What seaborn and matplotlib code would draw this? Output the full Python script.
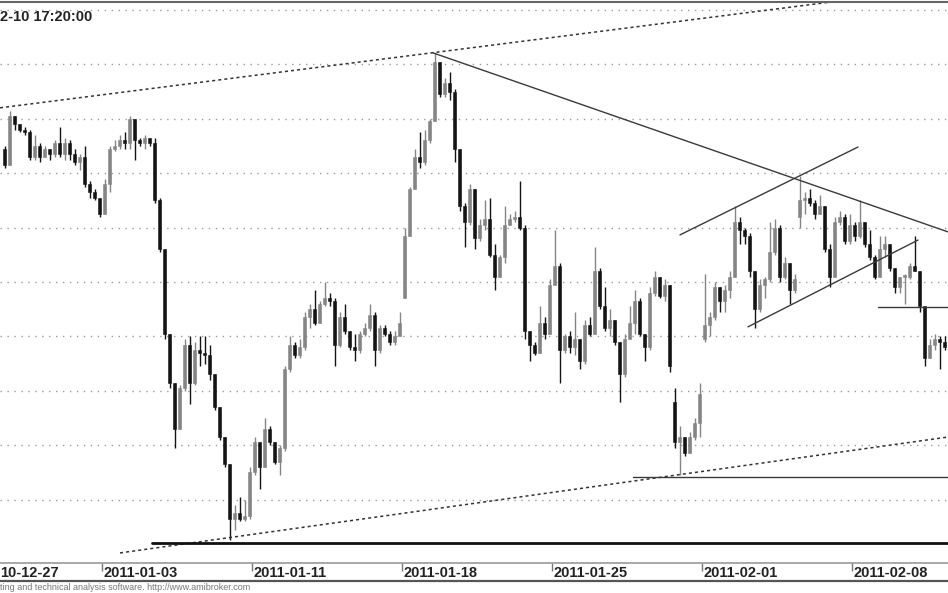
import matplotlib
matplotlib.use("Agg")
import matplotlib.pyplot as plt
import numpy as np
import seaborn as sns

# intraday candles, first visible bar is the 5th bar of 2010-12-27
first_open = 2749
closes = [
    2743, 2761, 2758, 2756, 2755, 2746, 2750, 2746, 2749, 2747,
    2751, 2747, 2751, 2747, 2744, 2746, 2736, 2733, 2731, 2725,
    2736, 2749, 2750, 2752, 2751, 2760, 2752, 2751, 2753, 2751,
    2730, 2712, 2681, 2663, 2646, 2661, 2677, 2663, 2675, 2674,
    2673, 2666, 2654, 2643, 2633, 2613, 2615, 2613, 2614, 2630,
    2641, 2632, 2646, 2641, 2634, 2639, 2668, 2677, 2673, 2676,
    2687, 2690, 2685, 2692, 2694, 2693, 2677, 2687, 2682, 2676,
    2675, 2681, 2683, 2688, 2675, 2683, 2681, 2678, 2680, 2685,
    2717, 2734, 2746, 2744, 2752, 2759, 2781, 2769, 2773, 2770,
    2749, 2728, 2722, 2734, 2716, 2721, 2723, 2710, 2702, 2709,
    2721, 2723, 2724, 2720, 2682, 2677, 2674, 2685, 2681, 2699,
    2706, 2675, 2680, 2676, 2679, 2671, 2684, 2681, 2704, 2691,
    2683, 2686, 2678, 2666, 2679, 2685, 2693, 2681, 2676, 2696,
    2702, 2695, 2699, 2669, 2641, 2643, 2637, 2643, 2648, 2659,
    2684, 2687, 2698, 2693, 2697, 2702, 2722, 2719, 2717, 2704,
    2690, 2699, 2701, 2711, 2720, 2702, 2707, 2697, 2701, 2730,
    2731, 2729, 2725, 2728, 2712, 2702, 2722, 2724, 2715, 2721,
    2717, 2722, 2714, 2709, 2702, 2712, 2714, 2705, 2698, 2702,
    2702, 2706, 2704, 2691, 2672, 2677, 2679, 2678, 2676,
]
highs = [
    2750, 2763, 2761, 2758, 2757, 2756, 2754, 2751, 2750, 2749,
    2752, 2757, 2753, 2752, 2749, 2747, 2750, 2737, 2734, 2731,
    2738, 2750, 2752, 2754, 2755, 2761, 2758, 2753, 2754, 2753,
    2753, 2731, 2712, 2681, 2663, 2662, 2679, 2680, 2678, 2680,
    2680, 2677, 2665, 2654, 2643, 2633, 2618, 2621, 2620, 2632,
    2643, 2641, 2650, 2647, 2641, 2640, 2669, 2680, 2678, 2679,
    2689, 2692, 2697, 2693, 2700, 2696, 2694, 2689, 2692, 2682,
    2681, 2682, 2685, 2692, 2689, 2684, 2684, 2682, 2682, 2689,
    2720, 2735, 2749, 2755, 2756, 2760, 2784, 2781, 2775, 2777,
    2771, 2749, 2729, 2736, 2734, 2723, 2730, 2731, 2714, 2710,
    2728, 2725, 2726, 2737, 2721, 2679, 2678, 2691, 2687, 2701,
    2719, 2707, 2681, 2682, 2689, 2679, 2686, 2687, 2713, 2705,
    2698, 2690, 2685, 2678, 2681, 2691, 2697, 2694, 2681, 2698,
    2704, 2702, 2701, 2699, 2661, 2647, 2643, 2645, 2650, 2663,
    2703, 2689, 2700, 2698, 2699, 2704, 2728, 2724, 2720, 2718,
    2704, 2701, 2702, 2722, 2723, 2721, 2709, 2707, 2703, 2739,
    2733, 2734, 2730, 2732, 2728, 2714, 2724, 2726, 2725, 2725,
    2722, 2730, 2722, 2719, 2710, 2717, 2717, 2714, 2705, 2702,
    2703, 2707, 2717, 2704, 2691, 2679, 2681, 2680, 2680,
]
lows = [
    2742, 2743, 2756, 2755, 2754, 2745, 2745, 2744, 2746, 2745,
    2746, 2746, 2745, 2745, 2743, 2741, 2735, 2731, 2730, 2724,
    2729, 2733, 2748, 2749, 2749, 2749, 2745, 2750, 2749, 2750,
    2729, 2711, 2679, 2661, 2639, 2648, 2660, 2655, 2662, 2669,
    2670, 2664, 2653, 2642, 2632, 2605, 2609, 2612, 2612, 2613,
    2629, 2624, 2632, 2640, 2633, 2629, 2638, 2667, 2672, 2672,
    2675, 2683, 2684, 2685, 2691, 2691, 2669, 2676, 2681, 2675,
    2671, 2674, 2680, 2682, 2669, 2674, 2680, 2677, 2677, 2680,
    2694, 2717, 2734, 2742, 2743, 2751, 2759, 2768, 2768, 2767,
    2744, 2726, 2713, 2721, 2712, 2715, 2719, 2709, 2697, 2702,
    2707, 2721, 2722, 2719, 2679, 2671, 2673, 2675, 2679, 2681,
    2699, 2663, 2674, 2674, 2673, 2668, 2670, 2680, 2681, 2690,
    2682, 2680, 2677, 2656, 2665, 2679, 2681, 2680, 2671, 2675,
    2695, 2694, 2693, 2667, 2639, 2629, 2636, 2637, 2642, 2643,
    2678, 2680, 2686, 2689, 2689, 2694, 2702, 2714, 2714, 2702,
    2683, 2689, 2694, 2700, 2710, 2700, 2701, 2692, 2696, 2720,
    2725, 2728, 2723, 2725, 2711, 2698, 2702, 2721, 2714, 2714,
    2715, 2716, 2713, 2708, 2701, 2702, 2709, 2704, 2696, 2696,
    2692, 2701, 2704, 2689, 2669, 2672, 2675, 2668, 2675,
]
# session opens that gap away from the previous close
gap_opens = {80: 2694, 134: 2656, 140: 2679, 159: 2724}

# first bar index of each labelled session
day_labels = ["2011-01-03", "2011-01-11", "2011-01-18", "2011-01-25",
              "2011-02-01", "2011-02-08"]
day_start_bars = [20, 50, 80, 110, 140, 170]

# hand drawn study lines: (bar, price) end points
dotted_lines = [((-0.9, 2764.0), (167.0, 2803.3)),
                ((23.1, 2600.4), (188.7, 2643.0))]
solid_lines = [((85.7, 2784.2), (188.7, 2718.4)),
               ((135.1, 2717.3), (170.7, 2749.6)),
               ((148.7, 2683.5), (182.7, 2715.4)),
               ((174.7, 2690.8), (188.7, 2690.8)),
               ((125.7, 2628.3), (188.7, 2628.3))]
support_line = ((29.5, 2604.0), (188.7, 2604.0))

sns.set_theme(style="white")
plt.rcParams["font.family"] = ["Liberation Sans", "DejaVu Sans"]

closes = np.array(closes, dtype=float)
highs = np.array(highs, dtype=float)
lows = np.array(lows, dtype=float)
opens = np.concatenate([[first_open], closes[:-1]])
for i, o in gap_opens.items():
    opens[i] = o
idx = np.arange(len(closes))

up = closes >= opens
cols = np.where(up, "#858585", "#141414")
body_lo = np.minimum(opens, closes)
body_h = np.maximum(np.abs(closes - opens), 0.7)
wick_lo = np.minimum(lows, body_lo)
wick_hi = np.maximum(highs, np.maximum(opens, closes))

W, H = 948, 593
fig = plt.figure(figsize=(W / 100, H / 100), dpi=100)
ax = fig.add_axes([0, 30 / H, 1, 561 / H])
strip = fig.add_axes([0, 12 / H, 1, 18 / H], sharex=ax)

ax.set_yticks(np.arange(2620, 2801, 20))
ax.yaxis.grid(True, color="#9a9a9a", linestyle=(0, (1, 4)), linewidth=1)
ax.xaxis.grid(False)
ax.tick_params(left=False, bottom=False, labelleft=False, labelbottom=False)

ax.vlines(idx, wick_lo, wick_hi, colors=cols, linewidth=1)
ax.bar(idx, body_h, bottom=body_lo, width=0.66, color=cols, edgecolor=cols, linewidth=0.4)

for (x0, y0), (x1, y1) in dotted_lines:
    ax.plot([x0, x1], [y0, y1], color="#333333", linestyle=(0, (2, 2)), linewidth=1.1)
for (x0, y0), (x1, y1) in solid_lines:
    ax.plot([x0, x1], [y0, y1], color="#3a3a3a", linewidth=1.0)
(x0, y0), (x1, y1) = support_line
ax.plot([x0, x1], [y0, y1], color="#111111", linewidth=2.0)

ax.set_xlim(-0.9, 188.7)
ax.set_ylim(2596.7, 2802.9)
for side in ["left", "right", "bottom"]:
    ax.spines[side].set_visible(False)
ax.spines["top"].set_color("#666666")
ax.spines["top"].set_linewidth(1.5)

ax.text(0.0, 0.985, "2-10 17:20:00", transform=ax.transAxes, ha="left", va="top",
        fontsize=10.5, fontweight="bold", color="#222222")

# date strip
strip.set_ylim(0, 1)
strip.set_yticks([])
strip.xaxis.tick_top()
strip.set_xticks([b - 0.5 for b in day_start_bars])
strip.tick_params(axis="x", direction="in", length=6, width=1, color="#777777",
                  labeltop=False, labelbottom=False, top=True, bottom=False)
strip.set_facecolor("white")
for side in ["left", "right"]:
    strip.spines[side].set_visible(False)
strip.spines["top"].set_color("#9a9a9a")
strip.spines["top"].set_linewidth(1.2)
strip.spines["bottom"].set_color("#555555")
strip.spines["bottom"].set_linewidth(1.6)
strip.text(0.0, 0.42, "10-12-27", transform=strip.transAxes, ha="left", va="center",
           fontsize=10.5, fontweight="bold", color="#222222")
for b, lab in zip(day_start_bars, day_labels):
    strip.text(b - 0.1, 0.42, lab, transform=strip.get_xaxis_transform(), ha="left",
               va="center", fontsize=10.5, fontweight="bold", color="#222222")

fig.text(0.0, 5 / H, "ting and technical analysis software. http://www.amibroker.com",
         ha="left", va="center", fontsize=6.5, color="#777777")

fig.savefig("out.png", dpi=100)
